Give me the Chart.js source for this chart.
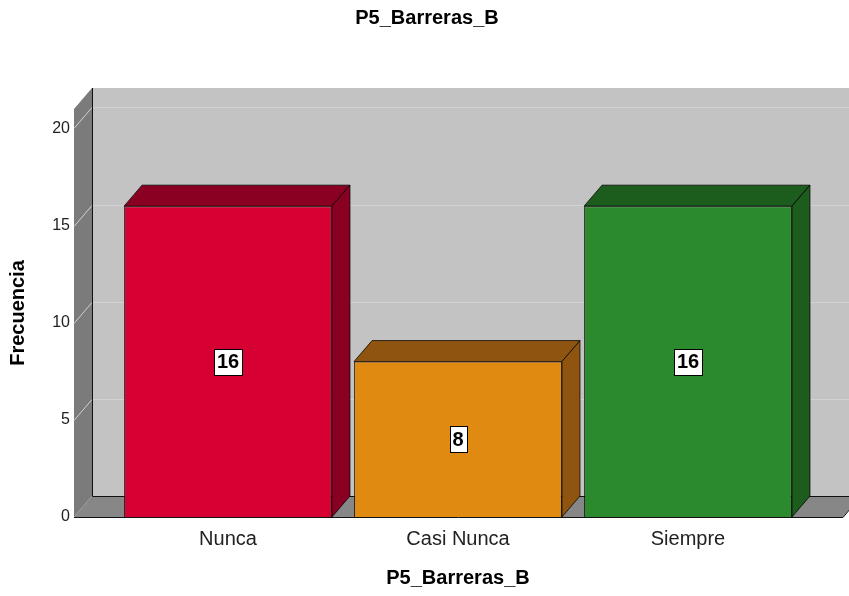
<!DOCTYPE html>
<html>
<head>
<meta charset="utf-8">
<script src="https://cdn.jsdelivr.net/npm/chart.js@4.4.0/dist/chart.umd.min.js"></script>
<style>
  html, body { margin: 0; padding: 0; background: #fff; }
</style>
</head>
<body>
<canvas id="myChart" width="849" height="596"></canvas>
<script>
// Data
const categories = ['Nunca', 'Casi Nunca', 'Siempre'];
const frecuencias = [16, 8, 16];
const yTicks = [0, 5, 10, 15, 20];

const frontColors = ['#d70032', '#e08a12', '#2c8a2e'];
const darkColors = ['#8a0022', '#8f5510', '#1c5c1d'];

const FONT = "'Liberation Sans', Arial, sans-serif";
const DX = 18, DY = 21;   // depth of the 3D look
const SIDE = 39;          // distance from the bars' plane to the left wall / right floor end

function poly(ctx, pts, fill, stroke) {
    ctx.beginPath();
    ctx.moveTo(pts[0][0], pts[0][1]);
    for (let i = 1; i < pts.length; i++) ctx.lineTo(pts[i][0], pts[i][1]);
    ctx.closePath();
    if (fill) { ctx.fillStyle = fill; ctx.fill(); }
    if (stroke) { ctx.strokeStyle = stroke; ctx.stroke(); }
}

// walls, floor and back grid
const walls3d = {
    id: 'walls3d',
    beforeDatasetsDraw(chart) {
        const { ctx, chartArea: a, scales: { y } } = chart;
        const W = chart.width;
        const wl = a.left - SIDE;
        const fr = a.right + SIDE + 1;
        ctx.save();
        ctx.lineWidth = 1;
        // back wall
        ctx.fillStyle = '#c3c3c3';
        ctx.fillRect(wl + DX, a.top - DY, W - wl - DX, a.bottom - a.top);
        // left wall
        poly(ctx, [[wl, a.top], [wl + DX, a.top - DY], [wl + DX, a.bottom - DY], [wl, a.bottom]], '#7b7b7b');
        // floor
        poly(ctx, [[wl, a.bottom], [wl + DX, a.bottom - DY], [fr + DX, a.bottom - DY], [fr, a.bottom]], '#878787');
        // grid lines: diagonal on the left wall, horizontal on the back wall
        ctx.strokeStyle = '#d2d2d2';
        yTicks.forEach(v => {
            if (v === 0) return;
            const py = Math.round(y.getPixelForValue(v)) + 0.5;
            ctx.beginPath();
            ctx.moveTo(wl, py);
            ctx.lineTo(wl + DX, py - DY);
            ctx.lineTo(W, py - DY);
            ctx.stroke();
        });
        // dark edges
        ctx.strokeStyle = '#111';
        ctx.beginPath();
        ctx.moveTo(wl + DX + 0.5, a.top - DY);
        ctx.lineTo(wl + DX + 0.5, a.bottom - DY + 0.5);
        ctx.lineTo(W, a.bottom - DY + 0.5);
        ctx.moveTo(wl, a.bottom + 0.5);
        ctx.lineTo(fr, a.bottom + 0.5);
        ctx.lineTo(fr + DX, a.bottom - DY);
        ctx.stroke();
        ctx.restore();
    },
    afterDatasetsDraw(chart) {
        const { ctx } = chart;
        const meta = chart.getDatasetMeta(0);
        ctx.save();
        ctx.lineWidth = 1;
        meta.data.forEach((bar, i) => {
            const { x, y, base, width } = bar.getProps(['x', 'y', 'base', 'width'], true);
            const l = x - width / 2, r = x + width / 2;
            poly(ctx, [[l, y], [l + DX, y - DY], [r + DX, y - DY], [r, y]], darkColors[i], 'rgba(0,0,0,0.75)');
            poly(ctx, [[r, y], [r + DX, y - DY], [r + DX, base - DY], [r, base]], darkColors[i], 'rgba(0,0,0,0.75)');

            // value box in the middle of the front face
            const txt = String(frecuencias[i]);
            ctx.font = 'bold 20px ' + FONT;
            const tw = ctx.measureText(txt).width;
            const cy = (y + base) / 2;
            const bw = Math.round(tw + 6), bh = 26;
            const bx = Math.round(x - bw / 2) + 0.5, by = Math.round(cy - bh / 2) + 0.5;
            ctx.fillStyle = '#fff';
            ctx.fillRect(bx, by, bw, bh);
            ctx.strokeStyle = '#000';
            ctx.strokeRect(bx, by, bw, bh);
            ctx.fillStyle = '#000';
            ctx.textAlign = 'center';
            ctx.textBaseline = 'middle';
            ctx.fillText(txt, x, cy + 1);
        });
        ctx.restore();
    }
};

const ctx = document.getElementById('myChart').getContext('2d');
const myChart = new Chart(ctx, {
    type: 'bar',
    data: {
        labels: categories,
        datasets: [{
            data: frecuencias,
            backgroundColor: frontColors,
            borderColor: 'rgba(0,0,0,0.75)',
            borderWidth: 1,
            barPercentage: 0.904,
            categoryPercentage: 1
        }]
    },
    options: {
        responsive: false,
        animation: false,
        devicePixelRatio: 1,
        layout: { padding: { left: 5, right: 0, top: 0, bottom: 0 } },
        plugins: {
            legend: { display: false },
            tooltip: { enabled: false },
            title: {
                display: true,
                text: 'P5_Barreras_B',
                color: '#000',
                font: { family: FONT, size: 20, weight: 'bold' },
                padding: { top: 6, bottom: 79 }
            }
        },
        scales: {
            x: {
                grid: { display: false, drawTicks: false },
                border: { display: false },
                ticks: { color: '#222', padding: 10, font: { family: FONT, size: 20 } },
                title: {
                    display: true,
                    text: 'P5_Barreras_B',
                    color: '#000',
                    font: { family: FONT, size: 20, weight: 'bold' },
                    padding: { top: 0, bottom: 6 }
                },
                afterFit: s => { s.height = 79; }
            },
            y: {
                min: 0,
                max: 21,
                grid: { display: false, drawTicks: false },
                border: { display: false },
                ticks: { stepSize: 5, includeBounds: false, padding: 43, color: '#222', font: { family: FONT, size: 16 } },
                title: {
                    display: true,
                    text: 'Frecuencia',
                    color: '#000',
                    font: { family: FONT, size: 20, weight: 'bold' },
                    padding: { top: 1, bottom: 0 }
                },
                afterFit: s => { s.width = 108; }
            },
            // empty axis that only keeps room on the right side
            yRight: {
                position: 'right',
                display: true,
                grid: { display: false, drawTicks: false },
                border: { display: false },
                ticks: { display: false },
                afterFit: s => { s.width = 46; }
            }
        }
    },
    plugins: [walls3d]
});
</script>
</body>
</html>
